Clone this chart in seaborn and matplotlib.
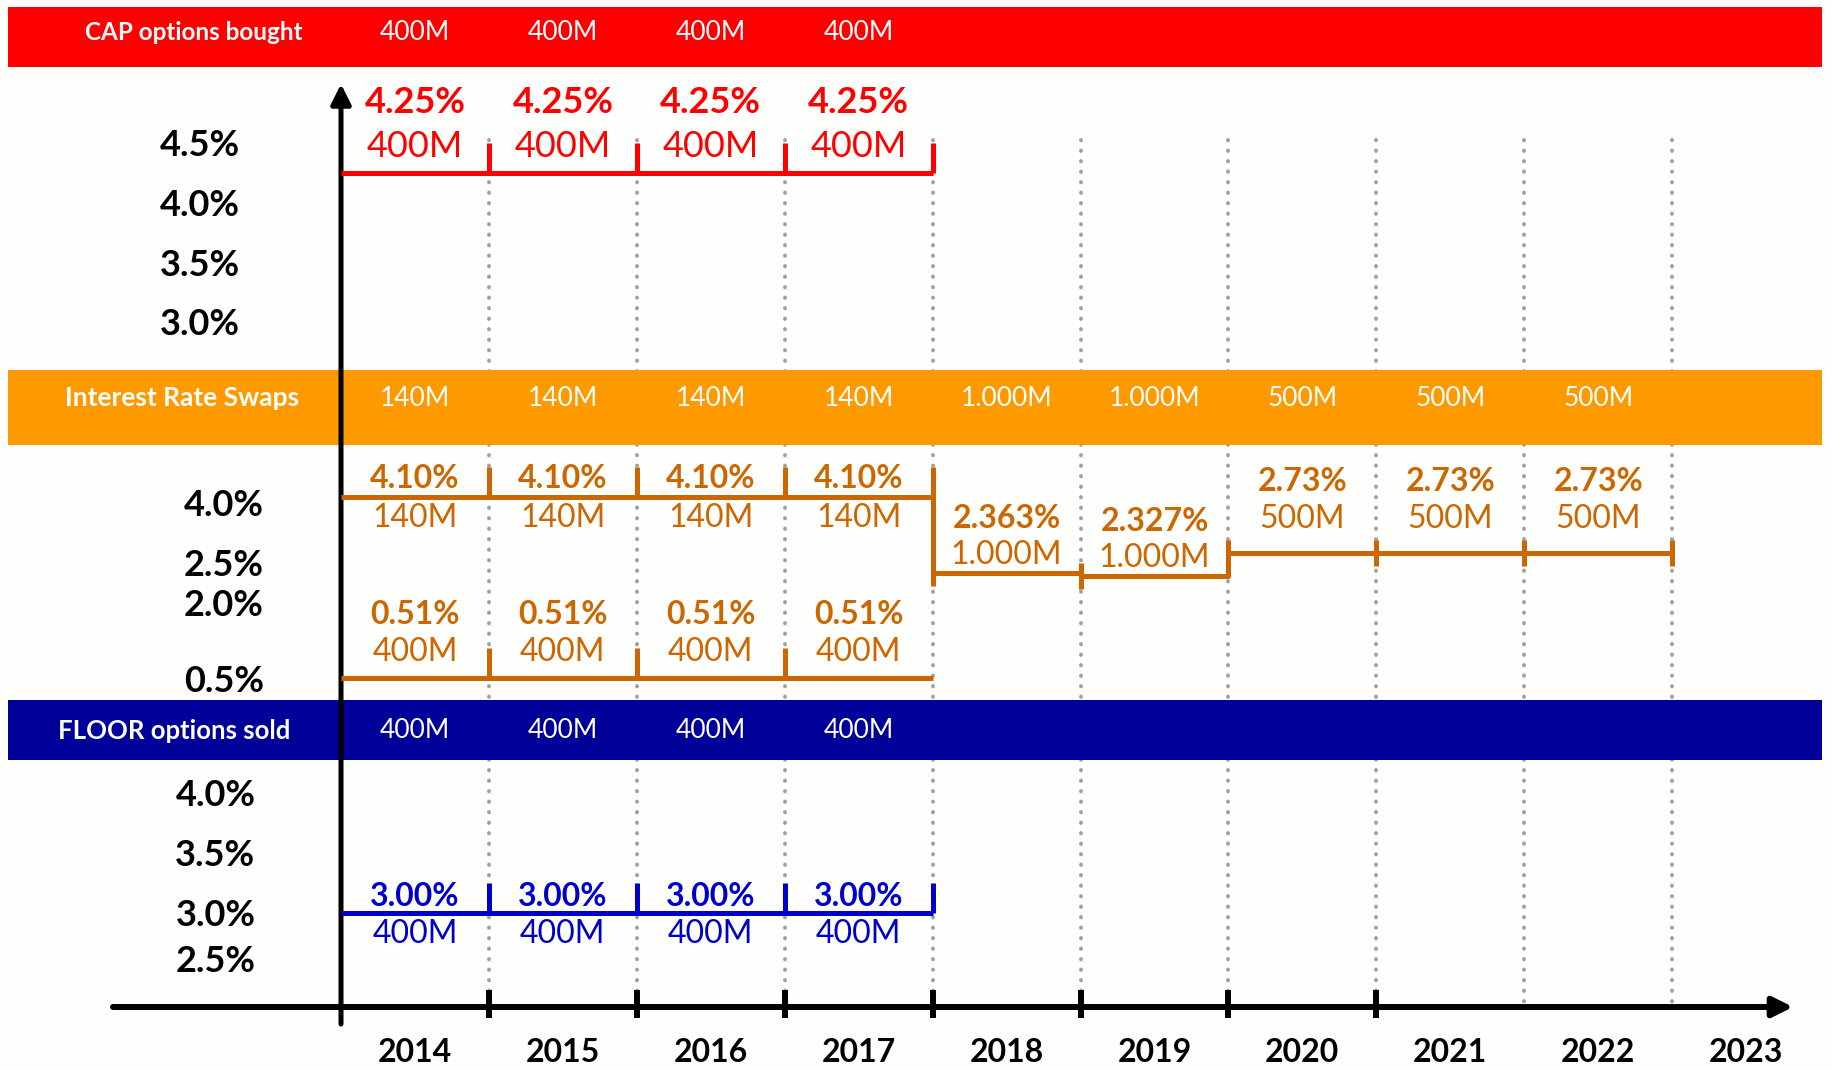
import numpy as np
import matplotlib
matplotlib.use('Agg')
import matplotlib.pyplot as plt
from matplotlib.path import Path
import seaborn as sns

# ---- data ----
years = [2014, 2015, 2016, 2017, 2018, 2019, 2020, 2021, 2022, 2023]

cap_rates = [4.25, 4.25, 4.25, 4.25]
cap_amounts = ['400M', '400M', '400M', '400M']
cap_ticks = [3.0, 3.5, 4.0, 4.5]

swap_rates = [4.10, 4.10, 4.10, 4.10, 2.363, 2.327, 2.73, 2.73, 2.73]
swap_labels = ['4.10%', '4.10%', '4.10%', '4.10%', '2.363%', '2.327%', '2.73%', '2.73%', '2.73%']
swap_amounts = ['140M', '140M', '140M', '140M', '1.000M', '1.000M', '500M', '500M', '500M']
swap_low_rates = [0.51, 0.51, 0.51, 0.51]
swap_low_amounts = ['400M', '400M', '400M', '400M']
swap_ticks = [0.5, 2.0, 2.5, 4.0]

floor_rates = [3.00, 3.00, 3.00, 3.00]
floor_amounts = ['400M', '400M', '400M', '400M']
floor_ticks = [2.5, 3.0, 3.5, 4.0]

RED = '#ff0000'
ORANGE_BAND = '#ff9900'
ORANGE = '#cc6600'
NAVY = '#000099'
BLUE = '#0000cc'

sns.set_style('white')
plt.rcParams['font.family'] = ['Lato', 'DejaVu Sans']
plt.rcParams['text.color'] = 'black'

W, H, DPI = 1832, 1070, 100
fig = plt.figure(figsize=(W / DPI, H / DPI), dpi=DPI, facecolor='#fefefc')

AXIS_PX, STEP_PX = 341, 147.9
xlim = (-AXIS_PX / STEP_PX, (W - AXIS_PX) / STEP_PX)


def px2x(px):
    return (px - AXIS_PX) / STEP_PX


# frame: x in periods, y in pixel rows (layout only)
frame = fig.add_axes([0, 0, 1, 1])
frame.set_xlim(*xlim)
frame.set_ylim(H, 0)
frame.axis('off')

bands = [
    (7, 67, 33, RED, 'CAP options bought', 194, 17.5, cap_amounts),
    (370, 445, 398, ORANGE_BAND, 'Interest Rate Swaps', 182, 19, swap_amounts),
    (700, 760, 731, NAVY, 'FLOOR options sold', 174, 18.5, floor_amounts),
]
for top, bot, ty, color, title, tx, fs, amounts in bands:
    frame.axhspan(top, bot, xmin=8 / W, xmax=1822 / W, color=color, lw=0, zorder=2)
    frame.text(px2x(tx), ty, title, color='white', fontsize=fs, fontweight='bold',
               ha='center', va='center', zorder=3)
    for i, a in enumerate(amounts):
        frame.text(i + 0.5, ty, a, color='white', fontsize=19, ha='center', va='center', zorder=3)

# dotted period boundaries
frame.vlines(np.arange(1, 10), 140, 1005, colors='#a0a0a0', linestyles=(0, (0.1, 2.6)),
             lw=2.8, zorder=1, capstyle='round')

# axes arrows
frame.annotate('', xy=(0, 84), xytext=(0, 1024),
               arrowprops=dict(arrowstyle='-|>', color='black', lw=3.6, mutation_scale=30,
                               shrinkA=0, shrinkB=0), zorder=5)
frame.annotate('', xy=(px2x(1793), 1007), xytext=(px2x(113), 1007),
               arrowprops=dict(arrowstyle='-|>', color='black', lw=4.3, mutation_scale=30,
                               shrinkA=0, shrinkB=0), zorder=5)
frame.vlines(np.arange(1, 8), 990, 1018, colors='black', lw=4.3, zorder=5)
for i, y in enumerate(years):
    frame.text(i + 0.5, 1052, str(y), fontsize=23, fontweight='bold', ha='center', va='center')


def panel(kv, kp_px, ticks, pad):
    kp = H - np.array(kp_px, dtype=float)
    ax = fig.add_axes([0, kp[0] / H, 1, (kp[-1] - kp[0]) / H])
    ax.set_yscale('function', functions=(lambda v: np.interp(v, kv, kp),
                                         lambda p: np.interp(p, kp, kv)))
    ax.set_xlim(*xlim)
    ax.set_ylim(kv[0], kv[-1])
    ax.patch.set_visible(False)
    for s in ['top', 'right', 'bottom']:
        ax.spines[s].set_visible(False)
    ax.spines['left'].set_position(('data', 0))
    ax.spines['left'].set_visible(False)
    ax.set_xticks([])
    ax.set_yticks(ticks)
    ax.set_yticklabels([f'{t:.1f}%' for t in ticks], fontweight='bold')
    ax.tick_params(axis='y', direction='out', length=21.6, width=3.6, colors='black',
                   labelsize=26, pad=pad)
    return ax


UP = Path([(0, 0), (0, 1)])


def levels(ax, start, rates, color, up_at):
    x = np.arange(start, start + len(rates) + 1)
    y = list(rates) + [rates[-1]]
    ax.plot(x, y, drawstyle='steps-post', color=color, lw=3.6, solid_capstyle='butt', clip_on=False)
    ax.plot(up_at, [rates[0]] * len(up_at), marker=UP, ms=43, mew=3.6, mec=color,
            mfc='none', ls='none', clip_on=False)


def labels(ax, xs, rates, tops, bottoms, color, off_top, off_bot, size_top=23, size_bot=23):
    for x, r, t, b in zip(xs, rates, tops, bottoms):
        ax.annotate(t, (x + 0.5, r), xytext=(0, off_top), textcoords='offset points',
                    ha='center', va='center', color=color, fontsize=size_top, fontweight='bold')
        ax.annotate(b, (x + 0.5, r), xytext=(0, off_bot), textcoords='offset points',
                    ha='center', va='center', color=color, fontsize=size_bot)


# CAP panel
cap_ax = panel([3.0, 4.5], [322, 143], cap_ticks, 51)
levels(cap_ax, 0, cap_rates, RED, [1, 2, 3, 4])
labels(cap_ax, range(4), cap_rates, [f'{r:.2f}%' for r in cap_rates], cap_amounts, RED,
       50.4, 18.7, 26, 26)

# SWAP panel
swap_ax = panel([0.5, 2.0, 2.5, 4.0, 4.5], [678, 603, 562, 502, 477], swap_ticks, 34)
levels(swap_ax, 0, swap_rates, ORANGE, [1, 2, 3, 4])
bx = np.arange(4, 10)
by = [swap_rates[min(b, len(swap_rates) - 1)] for b in bx]
swap_ax.plot(bx, by, marker='|', ms=19, mew=3.6, color=ORANGE, ls='none', clip_on=False)
labels(swap_ax, range(4), swap_rates[:4], swap_labels[:4], swap_amounts[:4], ORANGE, 13, -15)
labels(swap_ax, range(4, 6), swap_rates[4:6], swap_labels[4:6], swap_amounts[4:6], ORANGE, 39.6, 13)
labels(swap_ax, range(6, 9), swap_rates[6:], swap_labels[6:], swap_amounts[6:], ORANGE, 51, 24.5)
levels(swap_ax, 0, swap_low_rates, ORANGE, [1, 2, 3])
labels(swap_ax, range(4), swap_low_rates, [f'{r:.2f}%' for r in swap_low_rates],
       swap_low_amounts, ORANGE, 45, 18.7)

# FLOOR panel
floor_ax = panel([2.5, 3.0, 4.0], [959, 913, 793], floor_ticks, 40)
levels(floor_ax, 0, floor_rates, BLUE, [1, 2, 3, 4])
labels(floor_ax, range(4), floor_rates, [f'{r:.2f}%' for r in floor_rates], floor_amounts,
       BLUE, 12, -15)

fig.savefig('out.png', dpi=DPI, facecolor=fig.get_facecolor())
